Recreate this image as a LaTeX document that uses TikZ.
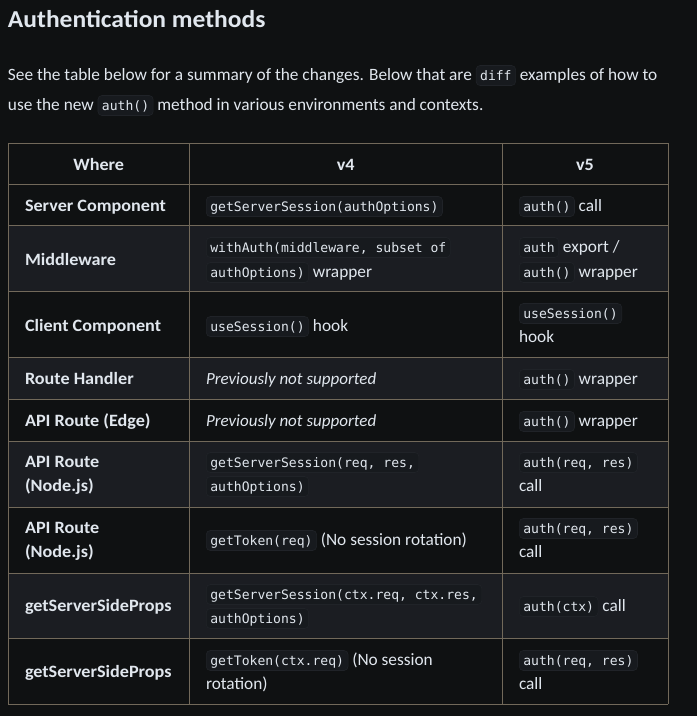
\documentclass[tikz,border=0pt]{standalone}
\usepackage{fontspec}
\setmainfont{Carlito}[BoldFeatures={FakeStretch=1.05}]
\setmonofont{DejaVu Sans Mono}
\definecolor{pagebg}{HTML}{0F1112}
\definecolor{rowalt}{HTML}{1B1D22}
\definecolor{gridc}{HTML}{72695A}
\definecolor{textc}{HTML}{E1E7EE}
\definecolor{codebg}{HTML}{171A1E}
\definecolor{codeline}{HTML}{202328}
\tikzset{
  codebox/.style={fill=codebg, draw=codeline, line width=0.6pt, rounded corners=4pt,
    inner xsep=4pt, inner ysep=3pt, text height=11.5pt, text depth=2.5pt, outer sep=0pt,
    text=textc, font=\fontsize{13.07}{15}\selectfont\ttfamily},
  txt/.style={anchor=base west, inner sep=0pt, outer sep=0pt, text=textc,
    font=\fontsize{17.3}{20}\selectfont},
  bld/.style={txt, font=\fontsize{17.3}{20}\selectfont\bfseries},
  itl/.style={txt, font=\fontsize{17}{20}\selectfont\itshape},
  hdr/.style={bld, anchor=base},
  gridline/.style={draw=gridc, line width=1pt}
}
\newcommand\cd[1]{\tikz[baseline=(cb.base)]\node[codebox](cb){#1};}
\begin{document}
\begin{tikzpicture}[x=1pt,y=-1pt]
\useasboundingbox (0,0) rectangle (697,716);
\fill[pagebg] (0,0) rectangle (697,716);
% title and paragraph
\node[txt, font=\fontsize{24.3}{28}\selectfont\bfseries] (title) at (8,27) {Authentication methods};
\node[txt] (p1) at (8,80) {See the table below for a summary of the changes. Below that are \cd{diff} examples of how to};
\node[txt] (p2) at (8,110) {use the new \cd{auth()} method in various environments and contexts.};
% row backgrounds
\fill[rowalt] (8,225) rectangle (668,291);
\fill[rowalt] (8,357) rectangle (668,399);
\fill[rowalt] (8,441) rectangle (668,507);
\fill[rowalt] (8,573) rectangle (668,638.5);
% grid
\foreach \yy in {143,184,225,291,357,399,441,507,573,638.5,704}
  \draw[gridline] (8,\yy) -- (668,\yy);
\foreach \xx in {8,189.5,502,668}
  \draw[gridline] (\xx,143) -- (\xx,704);
% header
\node[hdr] (hw) at (98.75,170) {Where};
\node[hdr] (h4) at (345.75,170) {v4};
\node[hdr] (h5) at (585,170) {v5};
% row 1
\node[bld] (a1) at (25,211) {Server Component};
\node[txt] (b1) at (206,211) {\cd{getServerSession(authOptions)}};
\node[txt] (c1) at (519,211) {\cd{auth()} call};
% row 2
\node[bld] (a2) at (25,265) {Middleware};
\node[txt] (b2a) at (206,252) {\cd{withAuth(middleware, subset of}};
\node[txt] (b2b) at (206,277) {\cd{authOptions)} wrapper};
\node[txt] (c2a) at (519,252) {\cd{auth} export /};
\node[txt] (c2b) at (519,277) {\cd{auth()} wrapper};
% row 3
\node[bld] (a3) at (25,331) {Client Component};
\node[txt] (b3) at (206,331) {\cd{useSession()} hook};
\node[txt] (c3a) at (519,318) {\cd{useSession()}};
\node[txt] (c3b) at (519,342) {hook};
% row 4
\node[bld] (a4) at (25,384) {Route Handler};
\node[itl] (b4) at (206,384) {Previously not supported};
\node[txt] (c4) at (519,384) {\cd{auth()} wrapper};
% row 5
\node[bld] (a5) at (25,426) {API Route (Edge)};
\node[itl] (b5) at (206,426) {Previously not supported};
\node[txt] (c5) at (519,426) {\cd{auth()} wrapper};
% row 6
\node[bld] (a6a) at (25,467) {API Route};
\node[bld] (a6b) at (25,491) {(Node.js)};
\node[txt] (b6a) at (206,467) {\cd{getServerSession(req, res,}};
\node[txt] (b6b) at (206,491) {\cd{authOptions)}};
\node[txt] (c6a) at (519,467) {\cd{auth(req, res)}};
\node[txt] (c6b) at (519,491) {call};
% row 7
\node[bld] (a7a) at (25,533) {API Route};
\node[bld] (a7b) at (25,557) {(Node.js)};
\node[txt] (b7) at (206,545) {\cd{getToken(req)} (No session rotation)};
\node[txt] (c7a) at (519,533) {\cd{auth(req, res)}};
\node[txt] (c7b) at (519,557) {call};
% row 8
\node[bld] (a8) at (25,611) {getServerSideProps};
\node[txt] (b8a) at (206,599) {\cd{getServerSession(ctx.req, ctx.res,}};
\node[txt] (b8b) at (206,623) {\cd{authOptions)}};
\node[txt] (c8) at (519,611) {\cd{auth(ctx)} call};
% row 9
\node[bld] (a9) at (25,677) {getServerSideProps};
\node[txt] (b9a) at (206,665) {\cd{getToken(ctx.req)} (No session};
\node[txt] (b9b) at (206,689) {rotation)};
\node[txt] (c9a) at (519,665) {\cd{auth(req, res)}};
\node[txt] (c9b) at (519,689) {call};
\end{tikzpicture}
\end{document}
